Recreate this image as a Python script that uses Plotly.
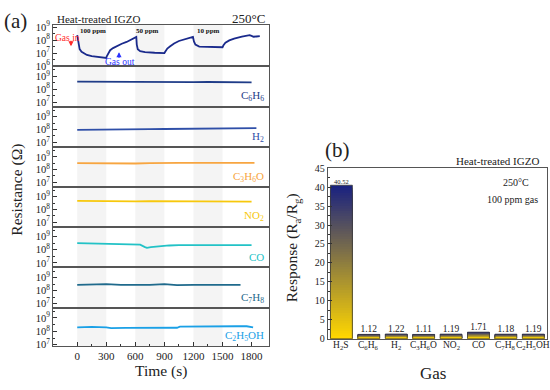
import plotly.graph_objects as go

# ---------------- data ----------------
# (a) resistance transients (time in s, resistance in ohm)
time_h2s = [0, 8, 15, 25, 45, 100, 150, 200, 250, 300, 305, 320, 340, 370, 410, 460, 510, 560, 600, 610,
            615, 625, 650, 700, 800, 900, 910, 930, 960, 1000, 1050, 1100, 1150, 1195, 1205, 1220, 1260,
            1350, 1450, 1500, 1510, 1530, 1570, 1620, 1700, 1780, 1800, 1820, 1850, 1885]
res_h2s = [2.4e8, 1.26e8, 4.0e7, 2.0e7, 1.26e7, 7.1e6, 5.8e6, 5.0e6, 4.6e6, 4.2e6, 5.6e6, 1.0e7, 1.66e7,
           2.4e7, 3.5e7, 5.2e7, 7.2e7, 1.12e8, 1.66e8, 1.78e8, 4.5e7, 2.0e7, 1.4e7, 1.17e7, 1.05e7, 1.0e7,
           1.32e7, 2.24e7, 3.3e7, 5.5e7, 8.5e7, 1.15e8, 1.45e8, 1.78e8, 7.9e7, 4.5e7, 3.16e7, 2.95e7,
           2.8e7, 2.8e7, 4.0e7, 6.3e7, 9.5e7, 1.32e8, 1.82e8, 2.4e8, 2.1e8, 1.82e8, 1.9e8, 2.0e8]

time_c6h6 = [0, 150, 300, 450, 600, 750, 900, 1050, 1200, 1350, 1500, 1650, 1800]
res_c6h6 = [3.9e8, 3.8e8, 3.8e8, 3.7e8, 3.6e8, 3.7e8, 3.6e8, 3.6e8, 3.5e8, 3.6e8, 3.5e8, 3.4e8, 3.4e8]

time_h2 = [0, 150, 300, 450, 600, 750, 900, 1050, 1200, 1350, 1500, 1650, 1850]
res_h2 = [9.5e7, 1.0e8, 1.0e8, 1.05e8, 1.05e8, 1.08e8, 1.1e8, 1.12e8, 1.15e8, 1.18e8, 1.2e8, 1.25e8, 1.3e8]

time_c3h6o = [0, 150, 300, 450, 600, 750, 900, 1050, 1200, 1350, 1500, 1650, 1830]
res_c3h6o = [3.2e8, 3.1e8, 3.1e8, 3.1e8, 3.0e8, 3.2e8, 3.4e8, 3.3e8, 3.3e8, 3.3e8, 3.4e8, 3.4e8, 3.3e8]

time_no2 = [0, 150, 300, 450, 600, 750, 900, 1050, 1200, 1350, 1500, 1650, 1800]
res_no2 = [4.6e8, 4.4e8, 4.5e8, 4.2e8, 4.3e8, 4.5e8, 4.5e8, 4.4e8, 4.4e8, 4.2e8, 4.5e8, 4.3e8, 4.1e8]

time_co = [0, 150, 300, 450, 600, 650, 700, 720, 760, 850, 950, 1050, 1200, 1350, 1500, 1650, 1800]
res_co = [3.2e8, 2.95e8, 2.8e8, 2.75e8, 2.6e8, 2.5e8, 1.6e8, 1.4e8, 1.6e8, 1.9e8, 2.15e8, 2.3e8, 2.3e8,
          2.25e8, 2.3e8, 2.3e8, 2.25e8]

time_c7h8 = [0, 150, 300, 450, 600, 750, 900, 1030, 1200, 1350, 1500, 1686]
res_c7h8 = [2.8e8, 3.0e8, 3.2e8, 2.75e8, 2.6e8, 2.8e8, 3.2e8, 2.6e8, 2.8e8, 2.9e8, 2.95e8, 2.8e8]

time_c2h5oh = [0, 150, 300, 350, 500, 650, 800, 950, 1030, 1060, 1200, 1350, 1500, 1650, 1750, 1816]
res_c2h5oh = [2.0e8, 2.15e8, 2.0e8, 1.75e8, 1.8e8, 1.85e8, 1.95e8, 1.9e8, 1.85e8, 2.25e8, 2.35e8, 2.4e8,
              2.45e8, 2.4e8, 2.4e8, 2.0e8]

gas_on = [0, 600, 1200]
gas_off = [300, 900, 1500]
conc_labels = ["100 ppm", "50 ppm", "10 ppm"]

# (b) response
gases = ["H<sub>2</sub>S", "C<sub>6</sub>H<sub>6</sub>", "H<sub>2</sub>", "C<sub>3</sub>H<sub>6</sub>O",
         "NO<sub>2</sub>", "CO", "C<sub>7</sub>H<sub>8</sub>", "C<sub>2</sub>H<sub>5</sub>OH"]
response = [40.52, 1.12, 1.22, 1.11, 1.19, 1.71, 1.18, 1.19]

# ---------------- styling ----------------
FONT = "Liberation Serif"
W, H = 550, 390
def px(x): return x / W
def py(y): return 1 - y / H

panels = [
    dict(t=time_h2s, r=res_h2s, color="#1a2a8c", label=None, rng=[5.98, 9.17], decades=[6, 7, 8, 9]),
    dict(t=time_c6h6, r=res_c6h6, color="#1f3c88", label=gases[1], rng=[6.65, 9.78], decades=[7, 8, 9]),
    dict(t=time_h2, r=res_h2, color="#2f4fa8", label=gases[2], rng=[6.65, 9.78], decades=[7, 8, 9]),
    dict(t=time_c3h6o, r=res_c3h6o, color="#f7a540", label=gases[3], rng=[6.65, 9.78], decades=[7, 8, 9]),
    dict(t=time_no2, r=res_no2, color="#f7c80c", label=gases[4], rng=[6.65, 9.78], decades=[7, 8, 9]),
    dict(t=time_co, r=res_co, color="#22c2c6", label=gases[5], rng=[6.65, 9.78], decades=[7, 8, 9]),
    dict(t=time_c7h8, r=res_c7h8, color="#1f6a8c", label=gases[6], rng=[6.65, 9.78], decades=[7, 8, 9]),
    dict(t=time_c2h5oh, r=res_c2h5oh, color="#1aa0e6", label=gases[7], rng=[6.9, 9.72], decades=[7, 8, 9]),
]
edges = [19.5, 62, 103.5, 145, 186, 227, 269, 311, 350]
LX0, LX1 = 53, 269
XR = [-250, 1980]

fig = go.Figure()
layout = dict(width=W, height=H, autosize=False, margin=dict(l=0, r=0, t=0, b=0),
              paper_bgcolor="white", plot_bgcolor="rgba(0,0,0,0)", showlegend=False,
              font=dict(family=FONT, color="#222"), barmode="overlay")
annotations = []
shapes = []

for i, p in enumerate(panels):
    n = i + 1
    xa = "xaxis" if n == 1 else f"xaxis{n}"
    ya = "yaxis" if n == 1 else f"yaxis{n}"
    xr = "x" if n == 1 else f"x{n}"
    yr = "y" if n == 1 else f"y{n}"
    fig.add_trace(go.Scatter(x=p["t"], y=p["r"], mode="lines", xaxis=xr, yaxis=yr,
                             line=dict(color=p["color"], width=1.8),
                             hoverinfo="skip"))
    bottom = (n == len(panels))
    xdict = dict(domain=[px(LX0), px(LX1)], anchor=yr, range=XR, showline=True, mirror=True,
                 linecolor="#555", linewidth=1, showgrid=False, zeroline=False,
                 ticks="inside" if bottom else "", ticklen=4, tickcolor="#333",
                 tickvals=[0, 300, 600, 900, 1200, 1500, 1800] if bottom else [],
                 showticklabels=bottom, tickfont=dict(size=11, family=FONT, color="#222"))
    if bottom:
        xdict["minor"] = dict(ticks="inside", ticklen=2, tickvals=[150, 450, 750, 1050, 1350, 1650],
                              tickcolor="#333")
    layout[xa] = xdict
    dec = p["decades"]
    layout[ya] = dict(domain=[py(edges[i + 1]), py(edges[i])], anchor=xr, type="log", range=p["rng"],
                      showline=True, mirror=True, linecolor="#555", linewidth=1, showgrid=False,
                      zeroline=False, ticks="inside", ticklen=4, tickcolor="#333",
                      tickvals=[10 ** d for d in dec],
                      ticktext=[f"10<sup>{d}</sup>" for d in dec],
                      tickfont=dict(size=10.5, family=FONT, color="#222"),
                      minor=dict(ticks="inside", ticklen=2, tickcolor="#333",
                                 tickvals=[10 ** (d + 0.5) for d in range(5, 10)]))
    if p["label"]:
        annotations.append(dict(x=px(266), y=py(edges[i + 1] - 10.5), xref="paper", yref="paper",
                                text=p["label"], showarrow=False, xanchor="right", yanchor="middle",
                                font=dict(size=11, family=FONT, color=p["color"])))

# gas-on shading
for a, b in zip(gas_on, gas_off):
    shapes.append(dict(type="rect", xref="x8", yref="paper", x0=a, x1=b, y0=py(edges[-1]), y1=py(edges[0]),
                       fillcolor="#f4f4f4", line=dict(width=0), layer="below"))

# (a) texts
def ann(x, y, text, size, color="#222", **kw):
    d = dict(x=px(x), y=py(y), xref="paper", yref="paper", text=text, showarrow=False,
             xanchor="center", yanchor="middle", font=dict(size=size, family=FONT, color=color))
    d.update(kw)
    annotations.append(d)

ann(15.5, 15, "(a)", 21)
ann(98, 13.3, "Heat-treated IGZO", 11)
ann(249, 12.5, "250°C", 13)
ann(67.5, 32.7, "Gas in", 9.5, color="#ff2a2a")
ann(120, 57.5, "Gas out", 9.5, color="#2a32ff")
for cx, lab in zip([93, 147, 208], conc_labels):
    ann(cx, 26, f"<b>{lab}</b>", 7, color="#111")
annotations.append(dict(x=px(71), y=py(41.5), xref="paper", yref="paper", text="", showarrow=True,
                        ax=0, ay=-7, arrowhead=2, arrowsize=0.8, arrowwidth=1.3, arrowcolor="#ff2a2a"))
annotations.append(dict(x=px(119), y=py(47.5), xref="paper", yref="paper", text="", showarrow=True,
                        ax=0, ay=7, arrowhead=2, arrowsize=0.8, arrowwidth=1.3, arrowcolor="#2a32ff"))
ann(17, 189, "Resistance (Ω)", 15.5, textangle=-90)
ann(161, 376, "Time (s)", 15.5)

# ---------------- (b) gradient bars ----------------
xpos = list(range(len(gases)))
NSEG = 60
c_bot = (255, 214, 0)
c_top = (26, 34, 128)
for k in range(NSEG):
    frac = (NSEG - k) / NSEG          # height fraction of this layer
    f = (NSEG - 1 - k) / (NSEG - 1)   # colour position (1 = top)
    col = tuple(round(c_bot[j] + (c_top[j] - c_bot[j]) * f) for j in range(3))
    fig.add_trace(go.Bar(x=xpos, y=[v * frac for v in response], width=0.8, xaxis="x9", yaxis="y9",
                         marker=dict(color=f"rgb{col}", line=dict(width=0)), hoverinfo="skip"))
fig.add_trace(go.Bar(x=xpos, y=response, width=0.8, xaxis="x9", yaxis="y9",
                     marker=dict(color="rgba(0,0,0,0)", line=dict(width=0.8, color="#3a3a3a")),
                     hoverinfo="skip"))
fig.add_trace(go.Scatter(x=xpos, y=response, mode="text", xaxis="x9", yaxis="y9",
                         text=[f"{v:.2f}" for v in response], textposition="top center",
                         textfont=dict(size=[6.5] + [9.5] * (len(response) - 1), family=FONT, color="#222"),
                         hoverinfo="skip"))

layout["xaxis9"] = dict(domain=[px(327.7), px(547)], anchor="y9", range=[-0.5, len(gases) - 0.5],
                        tickvals=xpos, showticklabels=False, showline=True, mirror=True, linecolor="#555",
                        linewidth=1, showgrid=False, zeroline=False, ticks="")
layout["yaxis9"] = dict(domain=[py(342.3), py(167)], anchor="x9", range=[0, 45], dtick=5,
                        showline=True, mirror=True, linecolor="#555", linewidth=1, showgrid=False,
                        zeroline=False, ticks="inside", ticklen=4, tickcolor="#333",
                        tickfont=dict(size=10, family=FONT, color="#222"),
                        minor=dict(ticks="inside", ticklen=2, dtick=2.5, tickcolor="#333"))
# category labels (as annotations tied to the category axis)
for xi, g in zip(xpos, gases):
    annotations.append(dict(x=xi, y=py(349), xref="x9", yref="paper", text=g, showarrow=False,
                            xanchor="center", yanchor="middle",
                            font=dict(size=9.5, family=FONT, color="#222")))

ann(337, 148.5, "(b)", 21)
ann(497, 159, "Heat-treated IGZO", 11)
ann(515.5, 181.7, "250°C", 10)
ann(512.5, 199.3, "100 ppm gas", 10)
ann(293.3, 249, "Response (R<sub>a</sub>/R<sub>g</sub>)", 15.5, textangle=-90)
ann(433.3, 378.3, "Gas", 17)

layout["annotations"] = annotations
layout["shapes"] = shapes
fig.update_layout(**layout)
fig.write_html("out.html", config={"displayModeBar": False},
               post_script="document.body.style.margin='0px';document.body.style.overflow='hidden';")
